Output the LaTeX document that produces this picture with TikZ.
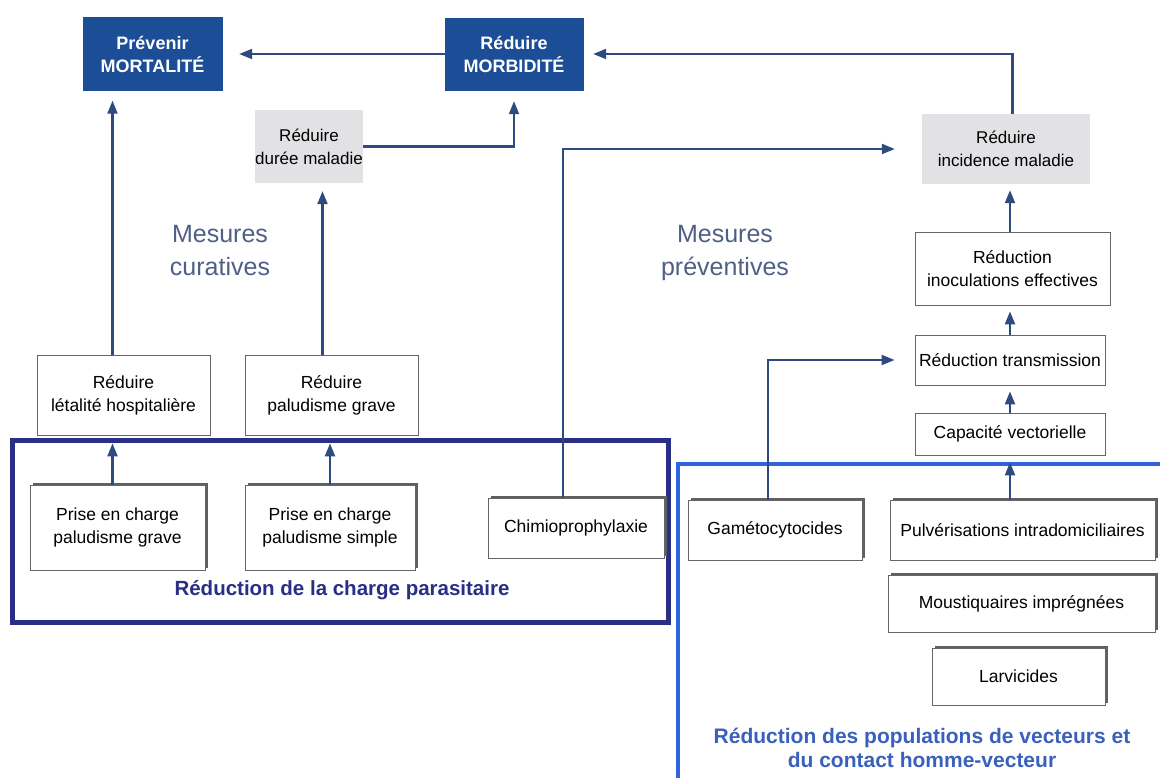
\documentclass[tikz,border=0pt]{standalone}
\usepackage{fontspec}
\setmainfont{Liberation Sans}
\usetikzlibrary{arrows.meta,calc,shadows}
\definecolor{hdblue}{HTML}{1B4E97}
\definecolor{lnblue}{HTML}{2D4B7E}
\definecolor{navy}{HTML}{2A2F86}
\definecolor{brblue}{HTML}{2F63E0}
\definecolor{lblblue}{HTML}{3A60BE}
\definecolor{mesgray}{HTML}{4F5F86}
\definecolor{boxgray}{HTML}{E2E2E5}
\begin{document}
\begin{tikzpicture}[x=1pt,y=-1pt,
  hdbox/.style={fill=hdblue,draw=hdblue,text=white,font=\fontsize{18}{23}\selectfont\bfseries,align=center,inner sep=0pt},
  gbox/.style={fill=boxgray,draw=none,font=\fontsize{17}{23}\selectfont,align=center,inner sep=0pt},
  wbox/.style={fill=white,draw=gray!80!black,line width=0.8pt,font=\fontsize{17.5}{23}\selectfont,align=center,inner sep=0pt},
  sbox/.style={wbox,general shadow={fill=gray!75!black,shadow xshift=2.5pt,shadow yshift=2.5pt}},
  arr/.style={draw=lnblue,line width=2.1pt,-{Triangle[length=13pt,width=10pt]}},
  mes/.style={text=mesgray,font=\fontsize{25}{33}\selectfont,align=center},
]
\useasboundingbox (0,0) rectangle (1160,778);
\fill[white] (0,0) rectangle (1160,778);

% top row
\node[hdbox,minimum width=139pt,minimum height=73pt] (mort) at (152.5,54) {Prévenir\\MORTALITÉ};
\node[hdbox,minimum width=138pt,minimum height=72pt] (morb) at (514,54) {Réduire\\MORBIDITÉ};

% second row
\node[gbox,minimum width=106pt,minimum height=73pt] (duree) at (309,146.5) {Réduire\\durée maladie};
\node[gbox,minimum width=168pt,minimum height=70pt] (incid) at (1006,149) {Réduire\\incidence maladie};

% labels
\node[mes] (cur) at (220,251) {Mesures\\curatives};
\node[mes] (prev) at (725,253) {Mesures\\préventives};

% third row
\node[wbox,minimum width=173pt,minimum height=80pt] (leta) at (123.5,395) {Réduire\\létalité hospitalière};
\node[wbox,minimum width=173pt,minimum height=80pt] (palg) at (331.5,395) {Réduire\\paludisme grave};
\node[wbox,minimum width=195pt,minimum height=73pt] (inoc) at (1012.5,268.5) {Réduction\\inoculations effectives};
\node[wbox,minimum width=190pt,minimum height=50pt] (trans) at (1010,360) {Réduction transmission};
\node[wbox,minimum width=190pt,minimum height=42pt] (capa) at (1010,434) {Capacité vectorielle};

% group boxes
\draw[navy,line width=5pt] (12,440) rectangle (668,622);
\node[text=navy,font=\fontsize{20.5}{24}\selectfont\bfseries] (gp) at (342,590) {Réduction de la charge parasitaire};
\draw[brblue,line width=4.5pt] (678,464) rectangle (1175,795);
\node[text=lblblue,font=\fontsize{21}{24}\selectfont\bfseries,align=center] (gv) at (922,748) {Réduction des populations de vecteurs et\\du contact homme-vecteur};

% bottom boxes
\node[sbox,minimum width=175pt,minimum height=85pt] (prg) at (117.5,527.5) {Prise en charge\\paludisme grave};
\node[sbox,minimum width=170pt,minimum height=85pt] (prs) at (330,527.5) {Prise en charge\\paludisme simple};
\node[sbox,minimum width=176pt,minimum height=60pt] (chim) at (576,528) {Chimioprophylaxie};
\node[sbox,minimum width=174pt,minimum height=60pt] (game) at (775,530) {Gamétocytocides};
\node[sbox,minimum width=265pt,minimum height=60pt] (pulv) at (1022.5,530) {Pulvérisations intradomiciliaires};
\node[sbox,minimum width=267pt,minimum height=57pt] (mous) at (1021.5,603.5) {Moustiquaires imprégnées};
\node[sbox,minimum width=173pt,minimum height=57pt] (larv) at (1018.5,676.5) {Larvicides};

% anchor points
\coordinate (pa) at ($(leta.north)+(-11,0)$);
\coordinate (pb) at ($(palg.north)+(-9,0)$);
\coordinate (pc) at ($(prg.north)+(-5,0)$);
\coordinate (pd) at ($(chim.north)+(-13,0)$);
\coordinate (pe) at ($(game.north)+(-7,0)$);

% connectors
\draw[arr,shorten >=17pt] (morb.west) -- (mort.east);
\draw[arr,shorten >=10pt] (incid.north -| inoc.north) |- (morb.east);
\draw[arr,shorten >=11pt] (duree.east) -| (morb.south);
\draw[arr,shorten >=10pt] (pa) -- (pa |- mort.south);
\draw[arr,shorten >=8pt] (pb) -- (pb |- duree.south);
\draw[arr,shorten >=8pt] (pc) -- (pc |- leta.south);
\draw[arr,shorten >=8pt] (prs.north) -- (prs.north |- palg.south);
\draw[arr,shorten >=27pt] (pd) |- (incid.west);
\draw[arr,shorten >=6pt] (inoc.north -| trans.north) -- (trans.north |- incid.south);
\draw[arr,shorten >=6pt] (trans.north) -- (trans.north |- inoc.south);
\draw[arr,shorten >=6pt] (capa.north) -- (trans.south);
\draw[arr,shorten >=7pt] (pulv.north -| capa.south) -- (capa.south);
\draw[arr,shorten >=20pt] (pe) |- (trans.west);
\end{tikzpicture}
\end{document}
